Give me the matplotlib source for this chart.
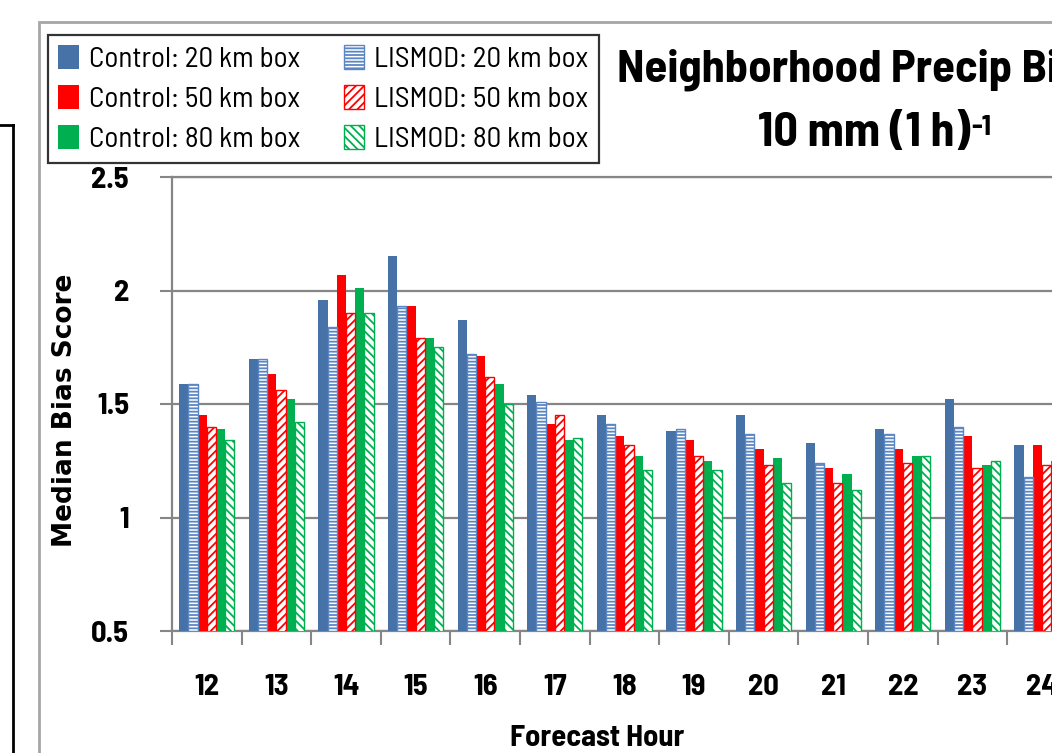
import matplotlib
matplotlib.use("Agg")
import matplotlib.pyplot as plt
from matplotlib import font_manager
from matplotlib.patches import Rectangle
from matplotlib.lines import Line2D
import numpy as np

hours = [12, 13, 14, 15, 16, 17, 18, 19, 20, 21, 22, 23, 24]

control_20 = [1.59, 1.70, 1.96, 2.15, 1.87, 1.54, 1.45, 1.38, 1.45, 1.33, 1.39, 1.52, 1.32]
lismod_20 = [1.59, 1.70, 1.84, 1.93, 1.72, 1.51, 1.41, 1.39, 1.37, 1.24, 1.37, 1.40, 1.18]
control_50 = [1.45, 1.63, 2.07, 1.93, 1.71, 1.41, 1.36, 1.34, 1.30, 1.22, 1.30, 1.36, 1.32]
lismod_50 = [1.40, 1.56, 1.90, 1.79, 1.62, 1.45, 1.32, 1.27, 1.23, 1.15, 1.24, 1.22, 1.23]
control_80 = [1.39, 1.52, 2.01, 1.79, 1.59, 1.34, 1.27, 1.25, 1.26, 1.19, 1.27, 1.23, 1.25]
lismod_80 = [1.34, 1.42, 1.90, 1.75, 1.50, 1.35, 1.21, 1.21, 1.15, 1.12, 1.27, 1.25, 1.20]


def weight_of(entry):
    wt = entry.weight
    return wt if isinstance(wt, int) else font_manager.weight_dict.get(wt, 400)


def squeeze_rank(name):
    # semi-condensed / narrow first, then condensed, the extra-squeezed ones last
    if "Semi" in name or "Narrow" in name:
        return 0
    if "Extra" in name or "Ultra" in name:
        return 2
    return 1


# Calibri is not around; use a narrow sans that comes in bold
narrow = [f for f in font_manager.fontManager.ttflist
          if "Narrow" in f.name or "Condensed" in f.name]
bold_names = sorted({f.name for f in narrow if weight_of(f) >= 600},
                    key=lambda nm: (squeeze_rank(nm), nm))
reg_names = sorted({f.name for f in narrow if 350 <= weight_of(f) < 600},
                   key=lambda nm: (squeeze_rank(nm), nm))
bold_face = bold_names[0] if bold_names else "Lato"
reg_face = bold_face if bold_face in reg_names else (reg_names[0] if reg_names else "Lato")
plt.rcParams["font.family"] = [reg_face, "DejaVu Sans"]
plt.rcParams["hatch.linewidth"] = 1.3
bold = dict(family=[bold_face, "DejaVu Sans"], fontweight="bold")

blue = "#4672A8"
blue_hatch = "#5A86C4"
red = "#FF0000"
green = "#00B050"
grey = "#868686"

W, H = 1052, 753
fig = plt.figure(figsize=(W / 100, H / 100), dpi=100)

# axes: category spacing ~69.6 px, runs off the right side of the slide
n = len(hours)
left_px, right_px = 172, 172 + n * 69.6
ax = fig.add_axes([left_px / W, (H - 631) / H, (right_px - left_px) / W, (631 - 177) / H])

x = np.arange(n)
w = 0.132
series = [
    (control_20, dict(color=blue, edgecolor=blue, linewidth=0), "Control: 20 km box"),
    (control_50, dict(color=red, edgecolor=red, linewidth=0), "Control: 50 km box"),
    (control_80, dict(color=green, edgecolor=green, linewidth=0), "Control: 80 km box"),
    (lismod_20, dict(color="white", edgecolor=blue_hatch, hatch="-----", linewidth=1.0), "LISMOD: 20 km box"),
    (lismod_50, dict(color="white", edgecolor=red, hatch="////", linewidth=1.0), "LISMOD: 50 km box"),
    (lismod_80, dict(color="white", edgecolor=green, hatch="\\\\\\\\", linewidth=1.0), "LISMOD: 80 km box"),
]
# bar order inside a group: C20, L20, C50, L50, C80, L80
slot = [0, 2, 4, 1, 3, 5]
handles = []
for (vals, style, label), s in zip(series, slot):
    bars = ax.bar(x + (s - 2.5) * w, vals, width=w, label=label, zorder=3, **style)
    handles.append(bars)

ax.set_ylim(0.5, 2.5)
ax.set_xlim(-0.5, n - 0.5)
ax.set_yticks([0.5, 1, 1.5, 2, 2.5])
ax.set_yticklabels(["0.5", "1", "1.5", "2", "2.5"], fontsize=22, **bold)
ax.set_xticks(x)
ax.set_xticklabels([str(h) for h in hours], fontsize=22, **bold)
ax.set_xticks(np.arange(n + 1) - 0.5, minor=True)
ax.tick_params(axis="x", which="major", length=0, pad=31)
ax.tick_params(axis="x", which="minor", length=10, width=1.5, color=grey, direction="out")
ax.tick_params(axis="y", length=9, width=1.5, color=grey, direction="out", pad=22)

ax.grid(axis="y", color=grey, linewidth=1.6, zorder=0)
ax.set_axisbelow(True)
for side in ["left", "bottom", "top"]:
    ax.spines[side].set_color(grey)
    ax.spines[side].set_linewidth(1.6)
ax.spines["right"].set_visible(False)

# slide furniture: chart area border and the edge of the neighbouring panel
fig.add_artist(Rectangle((39 / W, -0.1), 1.2, (H - 22) / H + 0.1, transform=fig.transFigure,
                         fill=False, edgecolor="#A6A6A6", linewidth=2.0))
fig.add_artist(Line2D([13 / W, 13 / W], [0, (H - 125) / H], transform=fig.transFigure,
                      color="black", linewidth=2.0))
fig.add_artist(Line2D([0, 13 / W], [(H - 125) / H, (H - 125) / H], transform=fig.transFigure,
                      color="black", linewidth=2.0))

fig.text(65 / W, 1 - 410 / H, "Median Bias Score", rotation=90, ha="center", va="center",
         fontsize=19, fontweight="bold", family="DejaVu Sans")
fig.text(597 / W, 1 - 738 / H, "Forecast Hour", ha="center", va="center", fontsize=22, **bold)

fig.text(617 / W, 1 - 70 / H, "Neighborhood Precip Bias", ha="left", va="center",
         fontsize=33.5, **bold)
sub = fig.text(864 / W, 1 - 133 / H, "10 mm (1 h)", ha="center", va="center",
               fontsize=34.5, **bold)
ax.annotate("-1", xy=(1.0, 0.92), xycoords=sub, xytext=(1, 0), textcoords="offset points",
            ha="left", va="top", fontsize=21, annotation_clip=False, **bold)

leg = fig.legend(handles=handles, ncol=2, loc="upper left",
                 bbox_to_anchor=(48 / W, 1 - 35 / H), frameon=True, fancybox=False,
                 fontsize=21, handlelength=0.7, handleheight=0.9, handletextpad=0.35,
                 columnspacing=1.5, labelspacing=0.4, borderpad=0.35, borderaxespad=0)
leg.get_frame().set_edgecolor("black")
leg.get_frame().set_linewidth(1.6)

fig.savefig("out.png", dpi=100)
